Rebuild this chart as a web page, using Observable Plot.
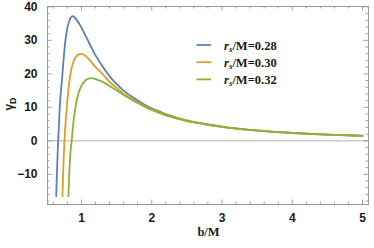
<!DOCTYPE html>
<html>
<head>
<meta charset="utf-8">
<script src="https://cdn.jsdelivr.net/npm/d3@7"></script>
<script src="https://cdn.jsdelivr.net/npm/@observablehq/plot@0.6"></script>
<style>
  html, body { margin: 0; padding: 0; background: #fff; }
</style>
</head>
<body>
<div id="chart"></div>
<script>
// Series: r_s/M = 0.28, 0.30, 0.32
const seriesNames = ["0.28", "0.30", "0.32"];
const seriesColors = ["#5E81B5", "#E19C24", "#8FB032"];

const blueB = [0.640, 0.648, 0.655, 0.661, 0.668, 0.68, 0.69, 0.71, 0.729, 0.75, 0.771, 0.80, 0.83, 0.855, 0.876, 0.90, 0.93, 0.97, 1.0, 1.05, 1.1, 1.15, 1.2, 1.27, 1.35, 1.42, 1.5, 1.6, 1.75, 1.9, 2.0, 2.2, 2.5, 2.8, 3.0, 3.5, 4.0, 4.5, 5.0];
const blueG = [-16.5, -11, -7, -3.5, 0, 5, 10, 15.5, 20, 25.5, 30, 33.8, 36, 37, 37.2, 36.9, 36.1, 34.9, 33.8, 31.7, 29.6, 27.5, 25.5, 23.2, 20.7, 18.8, 16.9, 15, 12.7, 10.8, 9.7, 8.0, 6.1, 4.9, 4.25, 3.1, 2.37, 1.88, 1.52];

const orangeB = [0.729, 0.737, 0.746, 0.757, 0.775, 0.795, 0.82, 0.843, 0.87, 0.90, 0.93, 0.96, 0.99, 1.01, 1.04, 1.08, 1.12, 1.16, 1.21, 1.27, 1.35, 1.42, 1.5, 1.6, 1.75, 1.9, 2.0, 2.2, 2.5, 2.8, 3.0, 3.5, 4.0, 4.5, 5.0];
const orangeG = [-16.5, -11, -5.5, 0, 6, 11, 16.5, 20, 22.6, 24.4, 25.3, 25.8, 25.95, 25.9, 25.6, 24.9, 24, 23, 21.8, 20.6, 18.7, 17.2, 15.8, 14.1, 12.1, 10.4, 9.4, 7.8, 6.0, 4.85, 4.2, 3.07, 2.35, 1.86, 1.5];

const greenB = [0.814, 0.822, 0.832, 0.845, 0.86, 0.875, 0.89, 0.914, 0.94, 0.97, 1.0, 1.04, 1.08, 1.11, 1.14, 1.18, 1.22, 1.27, 1.35, 1.42, 1.5, 1.6, 1.75, 1.9, 2.0, 2.2, 2.5, 2.8, 3.0, 3.5, 4.0, 4.5, 5.0];
const greenG = [-16.5, -11.5, -7, -3, 0, 3.5, 6.5, 10, 12.8, 15, 16.5, 17.7, 18.4, 18.65, 18.7, 18.55, 18.3, 17.9, 17, 16.1, 15.0, 13.7, 11.8, 10.2, 9.2, 7.6, 5.9, 4.8, 4.15, 3.04, 2.33, 1.84, 1.48];

const xTicks = [1, 2, 3, 4, 5];
const yTicks = [-10, 0, 10, 20, 30, 40];
const xMinor = d3.range(0.6, 5.01, 0.2).map(v => +v.toFixed(2)).filter(v => !xTicks.includes(v));
const yMinor = d3.range(-18, 40.1, 2).filter(v => !yTicks.includes(v));

const allB = [blueB, orangeB, greenB];
const allG = [blueG, orangeG, greenG];
const data = [];
allB.forEach((bs, i) => bs.forEach((b, j) => data.push({b, g: allG[i][j], s: seriesNames[i]})));

const W = 374, H = 248;
const mL = 47, mR = 6, mT = 6, mB = 44;
const plotW = W - mL - mR, plotH = H - mT - mB;
const tickCol = "#a0a0a0";
const majL = 4.5, minL = 2.5;

const chart = Plot.plot({
  width: W,
  height: H,
  marginLeft: mL,
  marginRight: mR,
  marginTop: mT,
  marginBottom: mB,
  style: {fontFamily: "'Liberation Sans', Arial, sans-serif", fontSize: "12px", fontWeight: "bold", color: "#1a1a1a", background: "#fff"},
  x: {domain: [0.516, 5.085]},
  y: {domain: [-19, 40.1]},
  color: {domain: seriesNames, range: seriesColors},
  marks: [
    Plot.ruleY([0], {stroke: "#b0b0b0", strokeWidth: 1}),
    // bottom & top ticks
    Plot.tickX(xTicks, {x: d => d, stroke: tickCol, insetTop: plotH - majL}),
    Plot.tickX(xMinor, {x: d => d, stroke: tickCol, insetTop: plotH - minL}),
    Plot.tickX(xTicks, {x: d => d, stroke: tickCol, insetBottom: plotH - majL}),
    Plot.tickX(xMinor, {x: d => d, stroke: tickCol, insetBottom: plotH - minL}),
    // left & right ticks
    Plot.tickY(yTicks, {y: d => d, stroke: tickCol, insetRight: plotW - majL}),
    Plot.tickY(yMinor, {y: d => d, stroke: tickCol, insetRight: plotW - minL}),
    Plot.tickY(yTicks, {y: d => d, stroke: tickCol, insetLeft: plotW - majL}),
    Plot.tickY(yMinor, {y: d => d, stroke: tickCol, insetLeft: plotW - minL}),
    Plot.line(data, {x: "b", y: "g", z: "s", stroke: "s", strokeWidth: 1.8, curve: "monotone-x"}),
    Plot.frame({stroke: "#999", strokeWidth: 1}),
    Plot.axisX({ticks: xTicks, tickSize: 0, tickPadding: 9, label: null, fontWeight: "bold", fontSize: 12, tickFormat: d3.format("d")}),
    Plot.axisY({ticks: yTicks, tickSize: 0, tickPadding: 10, label: null, fontWeight: "bold", fontSize: 12})
  ]
});

document.getElementById("chart").appendChild(chart);

const svg = d3.select(chart);
// axis titles
svg.append("text")
  .attr("x", mL + plotW / 2 + 1).attr("y", 236)
  .attr("text-anchor", "middle")
  .style("font-family", "'Liberation Serif', 'Times New Roman', serif")
  .style("font-size", "12.5px").style("font-weight", "bold")
  .attr("fill", "#1a1a1a")
  .text("b/M");

const yl = svg.append("text")
  .attr("transform", "translate(13,104) rotate(-90)")
  .attr("text-anchor", "middle")
  .style("font-family", "'Liberation Sans', Arial, sans-serif")
  .style("font-size", "12px").style("font-weight", "bold")
  .attr("fill", "#1a1a1a");
yl.append("tspan").text("γ");
yl.append("tspan").attr("font-size", "9px").attr("dy", 3).text("D");

// legend
const lg = svg.append("g");
seriesNames.forEach((name, i) => {
  const y = 45 + i * 17.2;
  lg.append("line").attr("x1", 196.5).attr("x2", 211).attr("y1", y).attr("y2", y)
    .attr("stroke", seriesColors[i]).attr("stroke-width", 1.8);
  const t = lg.append("text").attr("x", 224).attr("y", y + 4.5)
    .attr("text-anchor", "start")
    .style("font-family", "'Liberation Serif', 'Times New Roman', serif")
    .style("font-size", "12.5px").style("font-weight", "bold").attr("fill", "#1a1a1a");
  t.append("tspan").attr("font-style", "italic").text("r");
  t.append("tspan").attr("font-style", "italic").attr("font-size", "9px").attr("dy", 2.5).text("s");
  t.append("tspan").attr("dy", -2.5).text("/M=" + name);
});
</script>
</body>
</html>
